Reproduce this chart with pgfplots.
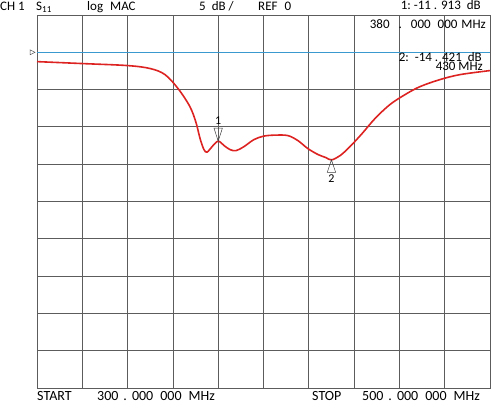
\documentclass[border=0pt]{standalone}
\usepackage{fontspec}
\setmainfont{Carlito}
\usepackage{pgfplots}
\pgfplotsset{compat=1.18}

\definecolor{trace}{HTML}{DD2222}
\definecolor{refline}{HTML}{3A9AD0}
\definecolor{gridc}{HTML}{5C5C5C}

% marker triangles: tip sits on the data point
\pgfdeclareplotmark{mkdown}{%
  \pgfpathmoveto{\pgfpoint{0pt}{0pt}}%
  \pgfpathlineto{\pgfpoint{-4.2pt}{13pt}}%
  \pgfpathlineto{\pgfpoint{4.2pt}{13pt}}%
  \pgfpathclose\pgfusepathqstroke}
\pgfdeclareplotmark{mkup}{%
  \pgfpathmoveto{\pgfpoint{0pt}{0pt}}%
  \pgfpathlineto{\pgfpoint{-4.2pt}{-12.5pt}}%
  \pgfpathlineto{\pgfpoint{4.2pt}{-12.5pt}}%
  \pgfpathclose\pgfusepathqstroke}
\pgfdeclareplotmark{mkref}{%
  \pgfpathmoveto{\pgfpoint{-2pt}{0pt}}%
  \pgfpathlineto{\pgfpoint{-7pt}{2.5pt}}%
  \pgfpathlineto{\pgfpoint{-7pt}{-2.5pt}}%
  \pgfpathclose\pgfusepathqstroke}

\newcommand{\hd}{\fontsize{13}{15}\selectfont}
\newcommand{\ft}{\fontsize{14}{16}\selectfont}

\begin{document}
\begin{tikzpicture}
\path[use as bounding box] (0pt,0pt) rectangle (492pt,403pt);
\begin{axis}[
  at={(37pt,15pt)}, anchor=south west,
  width=453pt, height=373pt, scale only axis,
  xmin=300, xmax=500, ymin=-45, ymax=5,
  xtick={300,320,...,500}, ytick={-45,-40,...,5},
  xticklabels={}, yticklabels={},
  major tick length=0pt,
  grid=major,
  grid style={gridc, line width=0.8pt},
  axis line style={gridc, line width=0.8pt},
  clip=false,
]
% reference line (REF 0)
\addplot[refline, line width=0.9pt, mark=mkref, mark repeat=2,
  mark options={black!70, line width=0.5pt, fill=none}]
  coordinates {(300,0) (500,0)};

% S11 trace
\addplot[trace, line width=1.6pt, smooth, tension=0.55] coordinates {
(300,-1.25) (320,-1.51) (340,-1.78) (350,-2.18) (356.5,-2.99)
(362.3,-4.87) (367.5,-7.28) (370.2,-9.42) (372.0,-11.57) (373.7,-13.04)
(375.1,-13.38) (377.3,-12.64) (380,-11.913) (382.6,-12.51) (385.2,-13.04)
(387.9,-13.18) (391.4,-12.64) (395.8,-11.70) (400.2,-11.23) (405.5,-11.10)
(410.8,-11.17) (415.2,-11.84) (419.6,-12.91) (424.1,-13.71) (427.6,-14.12)
(430,-14.421) (433.8,-13.85) (438.2,-12.64) (443.5,-10.90) (449.2,-8.89)
(455.8,-7.01) (462.5,-5.67) (469.1,-4.60) (477.9,-3.66) (486.8,-2.99)
(500,-2.45)};

% marker 1
\addplot[only marks, mark=mkdown, mark options={black!75, line width=0.5pt},
  nodes near coords, point meta=explicit symbolic,
  nodes near coords style={anchor=base, yshift=16.5pt, black, font=\fontsize{12}{13}\selectfont}]
  coordinates {(380,-11.913)[1]};
% marker 2
\addplot[only marks, mark=mkup, mark options={black!75, line width=0.5pt},
  nodes near coords, point meta=explicit symbolic,
  nodes near coords style={anchor=base, yshift=-22.5pt, black, font=\fontsize{12}{13}\selectfont}]
  coordinates {(430,-14.421)[2]};
\end{axis}

\begin{scope}[every node/.style={inner sep=0pt, font=\hd}]
\node[anchor=base west] at (0pt,392.5pt) {CH 1};
\node[anchor=base west] at (36pt,392.5pt) {S\textsubscript{11}};
\node[anchor=base west] at (87pt,392.5pt) {log\hspace{7pt}MAC};
\node[anchor=base west] at (199pt,392.5pt) {5\hspace{6pt}dB /};
\node[anchor=base west] at (258pt,392.5pt) {REF\hspace{7pt}0};
\node[anchor=base east] at (481pt,393pt) {1:\ -11 . 913\hspace{6pt}dB};
\node[anchor=base east] at (486pt,374.5pt) {380\hspace{9pt}.\hspace{9pt}000\hspace{7pt}000\hspace{4pt}MHz};
\node[anchor=base east] at (482pt,341.5pt) {2:\hspace{6pt}-14 . 421\hspace{6pt}dB};
\node[anchor=base east] at (483pt,332.5pt) {430 MHz};
\node[anchor=base west, font=\ft] at (37pt,2.8pt) {START};
\node[anchor=base west, font=\ft] at (97pt,2.8pt) {300\hspace{5pt}.\hspace{5pt}000\hspace{7pt}000\hspace{7pt}MHz};
\node[anchor=base west, font=\ft] at (312pt,2.8pt) {STOP};
\node[anchor=base west, font=\ft] at (362pt,2.8pt) {500\hspace{5pt}.\hspace{5pt}000\hspace{7pt}000\hspace{7pt}MHz};
\end{scope}
\end{tikzpicture}
\end{document}
